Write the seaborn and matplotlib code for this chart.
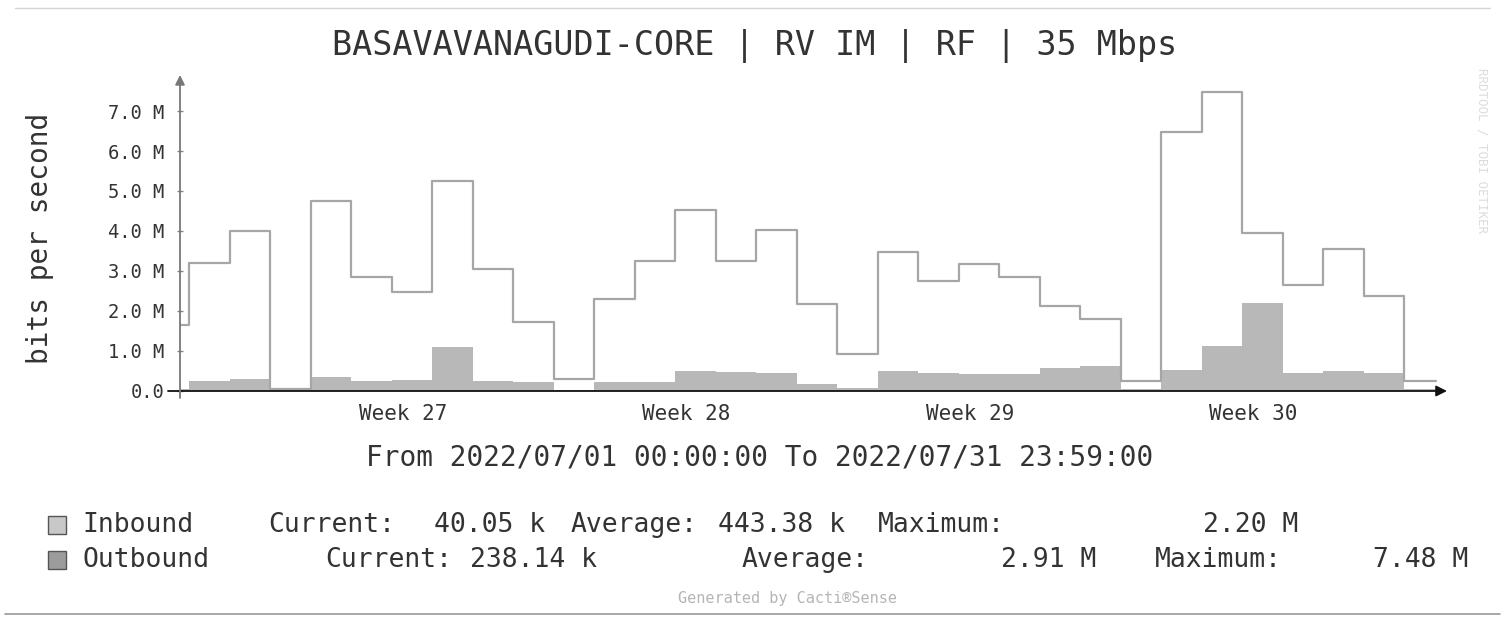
import pandas as pd
import matplotlib.pyplot as plt
import seaborn as sns
from matplotlib.lines import Line2D
from matplotlib.patches import Rectangle

sns.set_theme(style="white")
plt.rcParams['font.family'] = ['DejaVu Sans Mono', 'DejaVu Sans']

# daily samples, days since 2022/07/01 00:00 (rollover at 05:30 local)
day_start = [0.0] + [0.23 + k for k in range(31)]
day_end = 31.0
inbound = [0.05, 0.25, 0.30, 0.02, 0.35, 0.25, 0.28, 1.10, 0.25, 0.22, 0.02,
           0.22, 0.22, 0.50, 0.47, 0.45, 0.18, 0.07, 0.50, 0.45, 0.43, 0.42,
           0.57, 0.62, 0.05, 0.52, 1.12, 2.20, 0.45, 0.50, 0.45, 0.04]
outbound = [1.65, 3.20, 4.00, 0.05, 4.75, 2.85, 2.48, 5.24, 3.05, 1.73, 0.30,
            2.30, 3.24, 4.53, 3.24, 4.02, 2.18, 0.93, 3.48, 2.74, 3.18, 2.85,
            2.12, 1.80, 0.25, 6.48, 7.48, 3.95, 2.65, 3.55, 2.37, 0.24]
week_pos = [5.5, 12.5, 19.5, 26.5]
week_labels = ['Week 27', 'Week 28', 'Week 29', 'Week 30']
y_ticks = [0, 1, 2, 3, 4, 5, 6, 7]

legend_rows = [
    ('Inbound', [(268, 'Current:'), (434, '40.05 k'), (571, 'Average:'),
                 (718, '443.38 k'), (878, 'Maximum:'), (1203, '2.20 M')]),
    ('Outbound', [(325, 'Current:'), (470, '238.14 k'), (742, 'Average:'),
                  (1001, '2.91 M'), (1155, 'Maximum:'), (1373, '7.48 M')]),
]

df = pd.DataFrame({'day': day_start + [day_end],
                   'inbound': inbound + [inbound[-1]],
                   'outbound': outbound + [outbound[-1]]})

W, H = 1505, 621
fig = plt.figure(figsize=(W / 100, H / 100), dpi=100)
fig.patch.set_facecolor('white')


def px(x, y):
    return x / W, 1 - y / H


ax = fig.add_axes([180 / W, (H - 391) / H, 1267 / W, 316 / H])
ax.set_facecolor('white')

in_col = '#b8b8b8'
out_col = '#a6a6a6'
txt = '#333333'

ax.fill_between(df['day'], df['inbound'], step='post', color=in_col, lw=0)
sns.lineplot(data=df, x='day', y='outbound', drawstyle='steps-post',
             color=out_col, lw=1.6, sort=False, estimator=None, ax=ax)

ax.set_xlim(0, 31.28)
ax.set_ylim(0, 7.9)
for s in ax.spines.values():
    s.set_visible(False)

ax.set_yticks(y_ticks)
ax.set_yticklabels(['0.0'] + [f'{v:.1f} M' for v in y_ticks[1:]])
ax.tick_params(axis='y', direction='inout', length=5, width=1, color='#888888',
               pad=9, labelsize=13.5, labelcolor=txt, left=True)
ax.set_xticks(week_pos)
ax.set_xticklabels(week_labels)
ax.tick_params(axis='x', length=0, pad=9, labelsize=15, labelcolor=txt)
ax.set_xlabel('')
ax.set_ylabel('')

# axes with arrows
ax.annotate('', xy=(1.0, 0), xytext=(-12 / 1267, 0), xycoords='axes fraction',
            arrowprops=dict(arrowstyle='-|>', color='#111111', lw=1.3,
                            mutation_scale=16, shrinkA=0, shrinkB=0))
ax.annotate('', xy=(0, 1.0), xytext=(0, -7 / 316), xycoords='axes fraction',
            arrowprops=dict(arrowstyle='-|>', color='#777777', lw=1.3,
                            mutation_scale=14, shrinkA=0, shrinkB=0))

fig.text(*px(755, 46), 'BASAVAVANAGUDI-CORE | RV IM | RF | 35 Mbps',
         ha='center', va='center', fontsize=24, color=txt)
fig.text(*px(40, 238), 'bits per second', rotation=90, ha='center',
         va='center', fontsize=20, color=txt)
fig.text(*px(760, 458), 'From 2022/07/01 00:00:00 To 2022/07/31 23:59:00',
         ha='center', va='center', fontsize=20, color=txt)

box_cols = ['#c8c8c8', '#9c9c9c']
for i, (name, items) in enumerate(legend_rows):
    y = 525 + 35 * i
    bx, by = px(48, y + 9)
    fig.add_artist(Rectangle((bx, by), 18 / W, 18 / H, transform=fig.transFigure,
                             facecolor=box_cols[i], edgecolor='#555555', lw=1))
    fig.text(*px(82, y), name, ha='left', va='center', fontsize=19, color=txt)
    for x, s in items:
        fig.text(*px(x, y), s, ha='left', va='center', fontsize=19, color=txt)

fig.text(*px(787, 598), 'Generated by Cacti®Sense', ha='center', va='center',
         fontsize=11, color='#b5b5b5')
fig.text(*px(1482, 150), 'RRDTOOL / TOBI OETIKER', rotation=270, ha='center',
         va='center', fontsize=9, color='#dddddd')

fig.add_artist(Line2D([15 / W, 1490 / W], [1 - 8 / H, 1 - 8 / H],
                      color='#d5d5d5', lw=1))
fig.add_artist(Line2D([5 / W, 1500 / W], [1 - 614 / H, 1 - 614 / H],
                      color='#999999', lw=1.2))

fig.savefig('out.png', dpi=100, facecolor='white')
